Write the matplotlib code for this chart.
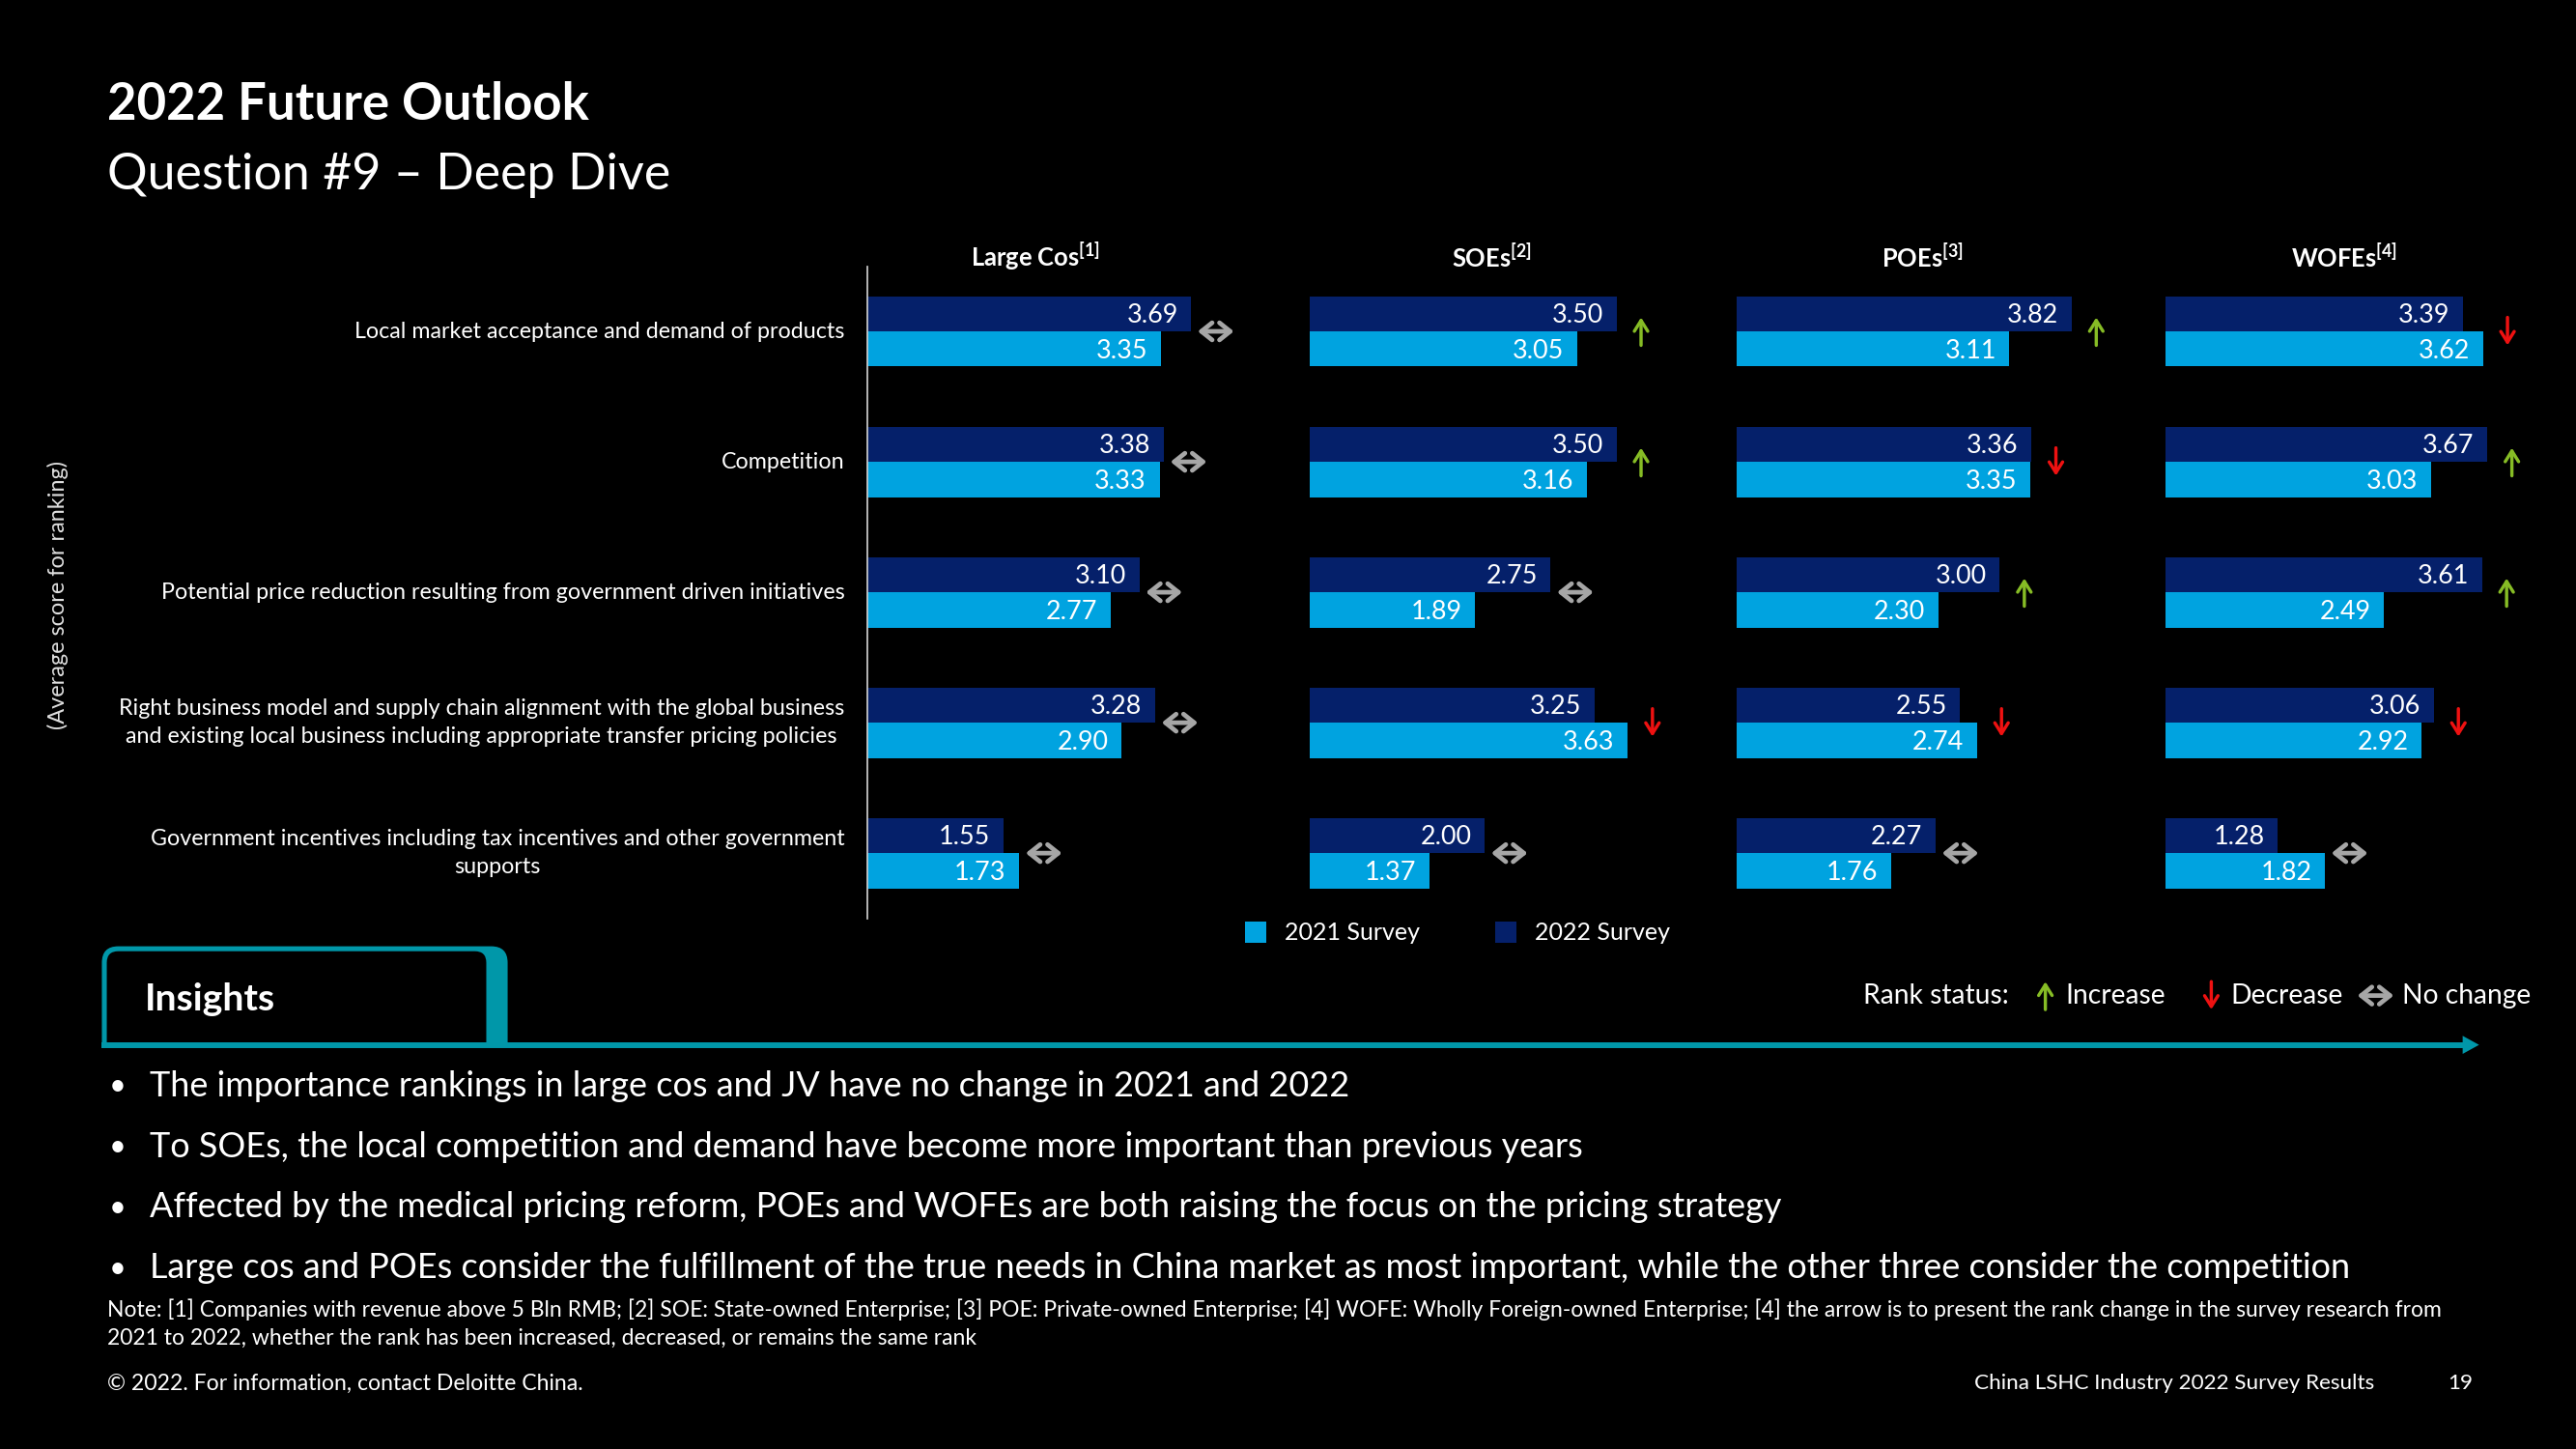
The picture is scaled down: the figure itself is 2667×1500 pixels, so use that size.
import matplotlib
matplotlib.use("Agg")
import matplotlib.pyplot as plt
from matplotlib.patches import FancyBboxPatch, Rectangle, Polygon

plt.rcParams["font.family"] = ["Lato", "DejaVu Sans"]
plt.rcParams["mathtext.fontset"] = "custom"
plt.rcParams["mathtext.rm"] = "Lato"
plt.rcParams["mathtext.bf"] = "Lato:bold"

# region Data

categories = [
    "Local market acceptance and demand of products",
    "Competition",
    "Potential price reduction resulting from government driven initiatives",
    "Right business model and supply chain alignment with the global business\n"
    "and existing local business including appropriate transfer pricing policies",
    "Government incentives including tax incentives and other government\nsupports",
]
groups = ["Large Cos", "SOEs", "POEs", "WOFEs"]
group_notes = ["[1]", "[2]", "[3]", "[4]"]

large_cos_2022 = [3.69, 3.38, 3.10, 3.28, 1.55]
large_cos_2021 = [3.35, 3.33, 2.77, 2.90, 1.73]
large_cos_rank = ["same", "same", "same", "same", "same"]

soes_2022 = [3.50, 3.50, 2.75, 3.25, 2.00]
soes_2021 = [3.05, 3.16, 1.89, 3.63, 1.37]
soes_rank = ["up", "up", "same", "down", "same"]

poes_2022 = [3.82, 3.36, 3.00, 2.55, 2.27]
poes_2021 = [3.11, 3.35, 2.30, 2.74, 1.76]
poes_rank = ["up", "down", "up", "down", "same"]

wofes_2022 = [3.39, 3.67, 3.61, 3.06, 1.28]
wofes_2021 = [3.62, 3.03, 2.49, 2.92, 1.82]
wofes_rank = ["down", "up", "up", "down", "same"]

series_labels = ["2021 Survey", "2022 Survey"]
rank_labels = ["Increase", "Decrease", "No change"]

insights = [
    "The importance rankings in large cos and JV have no change in 2021 and 2022",
    "To SOEs, the local competition and demand have become more important than previous years",
    "Affected by the medical pricing reform, POEs and WOFEs are both raising the focus on the pricing strategy",
    "Large cos and POEs consider the fulfillment of the true needs in China market as most important, "
    "while the other three consider the competition",
]
note_lines = [
    "Note: [1] Companies with revenue above 5 Bln RMB; [2] SOE: State-owned Enterprise; [3] POE: "
    "Private-owned Enterprise; [4] WOFE: Wholly Foreign-owned Enterprise; [4] the arrow is to present "
    "the rank change in the survey research from",
    "2021 to 2022, whether the rank has been increased, decreased, or remains the same rank",
]

# endregion

DARK = "#05206A"
LIGHT = "#00A3E0"
TEAL = "#0097A9"
GREEN = "#86BC25"
RED = "#EE1111"
GRAY = "#A6A6A6"

# layout is worked out on a 1568 x 882 grid, then scaled to the output
W, H = 1568, 882
PT = 2667 / W * 0.72  # points per grid pixel

fig = plt.figure(figsize=(26.67, 15), dpi=100, facecolor="black")
bg = fig.add_axes([0, 0, 1, 1], zorder=0)
bg.set_xlim(0, W)
bg.set_ylim(H, 0)
bg.axis("off")


def rank_arrow(ax, x, y, status, dx, dy):
    if status == "up":
        ends, color, style, lw = ((x, y + dy), (x, y - dy)), GREEN, "->,head_length=0.4,head_width=0.25", 2.0
    elif status == "down":
        ends, color, style, lw = ((x, y - dy), (x, y + dy)), RED, "->,head_length=0.4,head_width=0.25", 2.0
    else:
        ends, color, style, lw = ((x - dx, y), (x + dx, y)), GRAY, "<->,head_length=0.4,head_width=0.32", 2.8
    ax.annotate(
        "",
        xy=ends[1],
        xytext=ends[0],
        arrowprops=dict(
            arrowstyle=style, color=color, lw=lw * PT, mutation_scale=20,
            shrinkA=0, shrinkB=0,
        ),
        annotation_clip=False,
    )


# title
bg.text(65, 64, "2022 Future Outlook", fontsize=31 * PT, fontweight="bold",
        color="white", va="center")
bg.text(65, 107, "Question #9 \u2013 Deep Dive", fontsize=30.6 * PT,
        color="white", va="center")

# panels
panel_lefts = [528, 797, 1057, 1318]
title_centers = [630, 908, 1170, 1427]
panel_top, panel_bottom, panel_w = 162, 559, 255
px_per_unit = 53.4
rows = list(range(len(categories)))
bar_h = 0.27

all_2022 = [large_cos_2022, soes_2022, poes_2022, wofes_2022]
all_2021 = [large_cos_2021, soes_2021, poes_2021, wofes_2021]
all_rank = [large_cos_rank, soes_rank, poes_rank, wofes_rank]

row_px = (panel_bottom - panel_top) / len(categories)

for g, left in enumerate(panel_lefts):
    ax = fig.add_axes(
        [left / W, 1 - panel_bottom / H, panel_w / W, (panel_bottom - panel_top) / H],
        zorder=2,
    )
    ax.set_facecolor("none")
    ax.set_xlim(0, panel_w / px_per_unit)
    ax.set_ylim(len(categories) - 0.5, -0.5)
    for side in ["top", "right", "bottom", "left"]:
        ax.spines[side].set_visible(False)
    if g == 0:
        ax.spines["left"].set_visible(True)
        ax.spines["left"].set_color("#D0D0D0")
        ax.spines["left"].set_linewidth(1.0 * PT)
    ax.set_xticks([])
    ax.set_yticks([])

    v22 = all_2022[g]
    v21 = all_2021[g]
    ax.barh([r - bar_h / 2 for r in rows], v22, height=bar_h, color=DARK)
    ax.barh([r + bar_h / 2 for r in rows], v21, height=bar_h, color=LIGHT)
    pad = 8 / px_per_unit
    for r in rows:
        ax.text(v22[r] - pad, r - bar_h / 2 + 0.015, f"{v22[r]:.2f}", ha="right",
                va="center", color="white", fontsize=15.8 * PT)
        ax.text(v21[r] - pad, r + bar_h / 2 + 0.015, f"{v21[r]:.2f}", ha="right",
                va="center", color="white", fontsize=15.8 * PT)
        xa = max(v22[r], v21[r]) + 15 / px_per_unit
        rank_arrow(ax, xa, r, all_rank[g][r], 11 / px_per_unit, 8.5 / row_px)
        if g == 0:
            ax.text(-14 / px_per_unit, r, categories[r], ha="right", va="center",
                    multialignment="center", color="white", fontsize=13.7 * PT,
                    linespacing=1.45)

    bg.text(title_centers[g], 156, groups[g] + r"$^{\mathbf{" + group_notes[g] + "}}$",
            ha="center", va="center", color="white", fontsize=15 * PT,
            fontweight="bold")

bg.text(35, 362, "(Average score for ranking)", rotation=90, ha="center", va="center",
        color="#E0E0E0", fontsize=13.8 * PT)

# series legend
for x_sq, color, label in [(758, LIGHT, series_labels[0]), (910, DARK, series_labels[1])]:
    bg.add_patch(Rectangle((x_sq, 561), 13, 13, facecolor=color, edgecolor="none"))
    bg.text(x_sq + 24, 568, label, ha="left", va="center", color="white",
            fontsize=14.7 * PT)

# rank status legend
rank_fs = 16.6 * PT
bg.text(1134, 606, "Rank status:", ha="left", va="center", color="white", fontsize=rank_fs)
rank_arrow(bg, 1245, 606, "up", 11, 8.5)
bg.text(1257, 606, rank_labels[0], ha="left", va="center", color="white", fontsize=rank_fs)
rank_arrow(bg, 1346, 606, "down", 11, 8.5)
bg.text(1358, 606, rank_labels[1], ha="left", va="center", color="white", fontsize=rank_fs)
rank_arrow(bg, 1446, 606, "same", 11, 8.5)
bg.text(1462, 606, rank_labels[2], ha="left", va="center", color="white", fontsize=rank_fs)

# insights tab
bg.add_patch(FancyBboxPatch((62, 576), 247, 70, boxstyle="round,pad=0,rounding_size=10",
                            facecolor=TEAL, edgecolor="none"))
bg.add_patch(FancyBboxPatch((65, 579), 231, 70, boxstyle="round,pad=0,rounding_size=7",
                            facecolor="black", edgecolor="none"))
bg.add_patch(Rectangle((50, 637), 270, 20, facecolor="black", edgecolor="none"))
bg.plot([62, 1500], [636, 636], color=TEAL, lw=3.5 * PT, solid_capstyle="butt")
bg.add_patch(Polygon([(1499, 630.5), (1509, 636), (1499, 641.5)], closed=True,
                     facecolor=TEAL, edgecolor="none"))
bg.text(88, 608, "Insights", ha="left", va="center", color="white",
        fontsize=23 * PT, fontweight="bold")

bullet_fs = 21.2 * PT
for i, line in enumerate(insights):
    y = 661 + 37 * i
    bg.text(66, y, "\u2022", ha="left", va="center", color="white", fontsize=bullet_fs * 0.85)
    bg.text(91, y, line, ha="left", va="center", color="white", fontsize=bullet_fs)

for i, line in enumerate(note_lines):
    bg.text(65, 797 + 17.5 * i, line, ha="left", va="center", color="white",
            fontsize=13.43 * PT)

bg.text(65, 842, "\u00a9 2022. For information, contact Deloitte China.", ha="left",
        va="center", color="white", fontsize=13.5 * PT)
bg.text(1202, 842, "China LSHC Industry 2022 Survey Results", ha="left", va="center",
        color="white", fontsize=13.2 * PT)
bg.text(1490, 842, "19", ha="left", va="center", color="white", fontsize=13.2 * PT)

fig.savefig("out.png", dpi=100, facecolor="black")
